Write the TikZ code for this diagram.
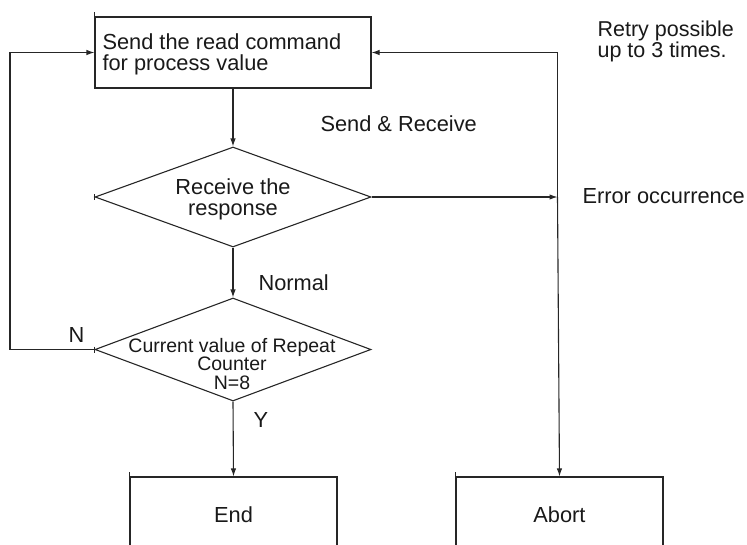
\documentclass[tikz,border=0pt]{standalone}
\usepackage{fontspec}
\setmainfont{Liberation Sans}
\usetikzlibrary{shapes.geometric,arrows.meta}
\begin{document}
\begin{tikzpicture}[x=1pt,y=-1pt,
  line width=1.1pt, draw=black!85, text=black!90,
  every node/.style={font=\fontsize{21.8}{21}\selectfont},
  box/.style={draw, rectangle, inner sep=0pt},
  dia/.style={draw, diamond, inner sep=0pt, aspect=2.76},
  txt/.style={inner sep=0pt, align=center},
  lbl/.style={anchor=west, inner sep=0pt},
  arr/.style={-{Latex[length=8pt,width=5.5pt]}}]
\clip (0,0) rectangle (747,544);
\useasboundingbox (0,0) rectangle (747,544);
% nodes
\node[box, minimum width=276pt, minimum height=71pt] (top) at (233,52.5) {};
\node[lbl, align=left] (toptxt) at (102,54.5) {Send the read command\\for process value};
\node[dia, minimum width=276pt, minimum height=100pt] (d1) at (233,197) {};
\node[txt] (d1txt) at (233,199) {Receive the\\response};
\node[dia, minimum width=276pt, minimum height=103pt] (d2) at (233,349.5) {};
\node[txt, font=\fontsize{19.5}{18.5}\selectfont] (d2txt) at (232,364) {Current value of Repeat\\Counter\\N=8};
\node[box, minimum width=207pt, minimum height=76pt] (end) at (233.5,515) {End};
\node[box, minimum width=207pt, minimum height=76pt] (abort) at (559.5,515) {Abort};
% coordinates
\coordinate (err) at (557.5,197);
\coordinate (rt) at (557.5,52.5);
\coordinate (lp) at (10,0);
% labels
\node[lbl] (sr) at (320,124) {Send \& Receive};
\node[lbl] (nor) at (258,283) {Normal};
\node[lbl] (nn) at (68,335) {N};
\node[lbl] (yy) at (253,420) {Y};
\node[lbl, align=left, font=\fontsize{21.5}{18}\selectfont] (retry) at (597,41) {Retry possible\\up to 3 times.};
\node[lbl] (eo) at (582,196) {Error occurrence};
% connectors
\draw[arr] (top.south) -- (d1.north);
\draw[arr] (d1.south) -- (d2.north);
\draw[arr] (d2.south) -- (end.north);
\draw[arr] (d1.east) -- (err);
\draw (rt) -- (err);
\draw[arr] (err) -- (abort.north);
\draw[arr] (rt) -- (top.east);
\draw[arr] (d2.west) -- (d2.west -| lp) |- (top.west);
% small ticks
\draw[line width=0.8pt] (top.north west) -- ++(0,-4);
\draw[line width=0.8pt] (end.north west) -- ++(0,-4);
\draw[line width=0.8pt] (abort.north west) -- ++(0,-4);
\draw[line width=0.8pt] (d1.west) ++(0,-3) -- ++(0,6);
\draw[line width=0.8pt] (d2.west) ++(0,-3) -- ++(0,6);
\end{tikzpicture}
\end{document}
